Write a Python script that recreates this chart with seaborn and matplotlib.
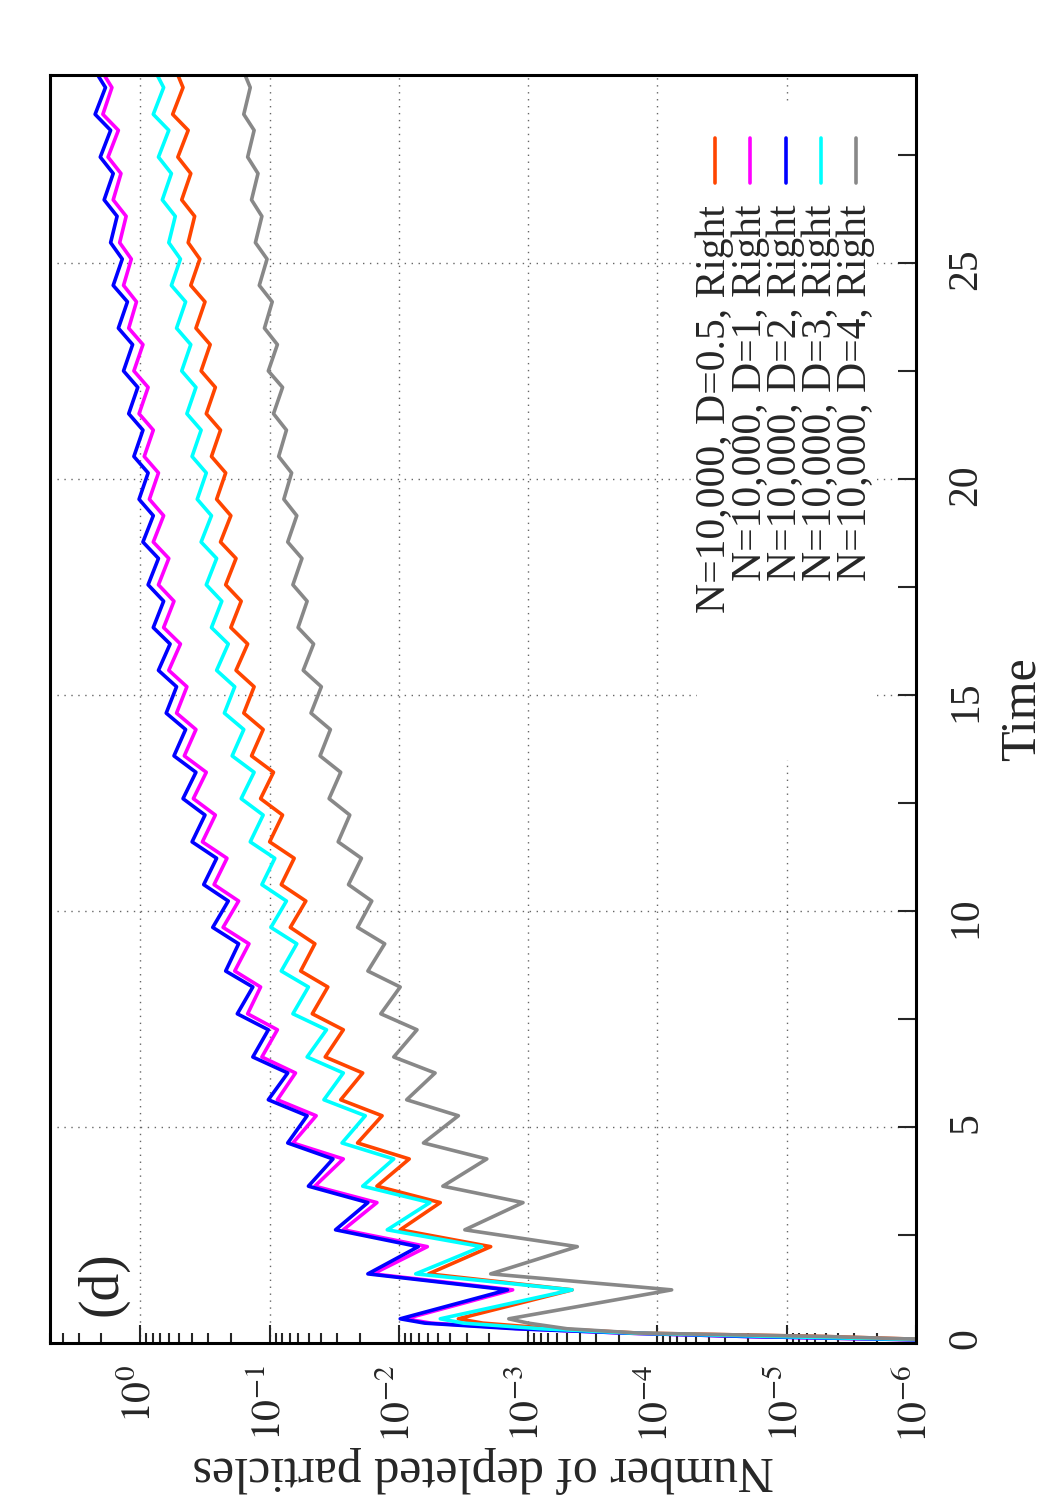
import numpy as np
import pandas as pd
import matplotlib
matplotlib.use("Agg")
import matplotlib.pyplot as plt
from matplotlib.lines import Line2D
from matplotlib.patches import Rectangle
from matplotlib.ticker import (FixedLocator, LogLocator, NullFormatter,
                               MultipleLocator, FuncFormatter)
import seaborn as sns

# Time samples (peaks / troughs of the oscillation)
time = [0.0, 0.08, 0.15, 0.23, 0.33, 0.46,
        0.56,
        1.23, 1.60, 2.23, 2.62, 3.25, 3.63, 4.26, 4.63, 5.26, 5.63,
        6.25, 6.62, 7.25, 7.62, 8.24, 8.61, 9.24, 9.62, 10.23, 10.61,
        11.22, 11.60, 12.22, 12.60, 13.21, 13.59, 14.20, 14.58, 15.19, 15.57,
        16.18, 16.56, 17.17, 17.55, 18.16, 18.54, 19.15, 19.53, 20.14, 20.52,
        21.13, 21.51, 22.12, 22.50, 23.11, 23.49, 24.10, 24.48, 25.09, 25.47,
        26.08, 26.46, 27.07, 27.45, 28.07, 28.44,
        29.06, 29.35]

# log10 of the number of depleted particles for each run
exp_d05 = [-7, -6.1, -5.3, -3.85, -3.2, -2.65,
           -2.46,
           -3.34, -2.23, -2.71, -2.01, -2.32, -1.83, -2.08, -1.68, -1.87, -1.55,
           -1.72, -1.43, -1.57, -1.33, -1.45, -1.24, -1.35, -1.16, -1.28, -1.09,
           -1.19, -1.00, -1.10, -0.93, -1.03, -0.86, -0.95, -0.80, -0.88, -0.74,
           -0.83, -0.70, -0.78, -0.66, -0.74, -0.62, -0.70, -0.59, -0.66, -0.55,
           -0.62, -0.51, -0.58, -0.47, -0.54, -0.43, -0.50, -0.39, -0.46, -0.37,
           -0.42, -0.32, -0.39, -0.29, -0.37, -0.25,
           -0.33, -0.29]
exp_d1 = [-7, -5.9, -4.7, -3.75, -2.95, -2.25,
          -2.05,
          -2.88, -1.80, -2.22, -1.57, -1.83, -1.35, -1.57, -1.18, -1.36, -1.06,
          -1.20, -0.94, -1.06, -0.83, -0.93, -0.73, -0.84, -0.64, -0.76, -0.57,
          -0.67, -0.48, -0.58, -0.41, -0.51, -0.34, -0.43, -0.28, -0.36, -0.22,
          -0.31, -0.18, -0.26, -0.14, -0.22, -0.10, -0.18, -0.07, -0.14, -0.03,
          -0.10, 0.01, -0.06, 0.05, -0.02, 0.09, 0.03, 0.13, 0.07, 0.16,
          0.11, 0.21, 0.15, 0.25, 0.17, 0.29,
          0.22, 0.28]
exp_d2 = [-7, -5.9, -4.7, -3.75, -2.9, -2.2,
          -2.01,
          -2.84, -1.76, -2.15, -1.51, -1.76, -1.30, -1.49, -1.14, -1.29, -0.99,
          -1.14, -0.87, -0.99, -0.75, -0.87, -0.66, -0.76, -0.56, -0.68, -0.49,
          -0.59, -0.40, -0.50, -0.33, -0.43, -0.26, -0.35, -0.20, -0.28, -0.14,
          -0.23, -0.10, -0.18, -0.06, -0.14, -0.02, -0.10, 0.01, -0.06, 0.05,
          -0.02, 0.09, 0.02, 0.13, 0.06, 0.17, 0.10, 0.21, 0.14, 0.23,
          0.18, 0.28, 0.21, 0.31, 0.23, 0.35,
          0.27, 0.33]
exp_d3 = [-7, -6.0, -4.9, -3.8, -3.1, -2.5,
          -2.32,
          -3.34, -2.13, -2.64, -1.91, -2.24, -1.72, -1.96, -1.56, -1.74, -1.42,
          -1.57, -1.29, -1.44, -1.18, -1.30, -1.09, -1.21, -1.01, -1.13, -0.94,
          -1.04, -0.85, -0.95, -0.78, -0.88, -0.71, -0.80, -0.65, -0.73, -0.59,
          -0.68, -0.55, -0.63, -0.51, -0.59, -0.47, -0.55, -0.44, -0.51, -0.40,
          -0.47, -0.36, -0.43, -0.32, -0.39, -0.28, -0.35, -0.24, -0.31, -0.22,
          -0.27, -0.17, -0.24, -0.14, -0.22, -0.10,
          -0.18, -0.13]
exp_d4 = [-7, -6.1, -5.3, -3.85, -3.3, -3.0,
          -2.85,
          -4.11, -2.71, -3.38, -2.51, -2.96, -2.34, -2.68, -2.19, -2.46, -2.06,
          -2.28, -1.96, -2.14, -1.86, -2.01, -1.76, -1.89, -1.68, -1.79, -1.61,
          -1.71, -1.53, -1.62, -1.46, -1.55, -1.39, -1.47, -1.32, -1.40, -1.26,
          -1.34, -1.22, -1.29, -1.18, -1.25, -1.14, -1.21, -1.11, -1.17, -1.07,
          -1.13, -1.03, -1.10, -0.99, -1.06, -0.96, -1.02, -0.92, -0.98, -0.89,
          -0.94, -0.86, -0.91, -0.83, -0.88, -0.80,
          -0.85, -0.81]

labels = ["N=10,000, D=0.5, Right", "N=10,000, D=1, Right", "N=10,000, D=2, Right",
          "N=10,000, D=3, Right", "N=10,000, D=4, Right"]
colors = ["#ff4500", "#ff00ff", "#0000ff", "#00ffff", "#888888"]
series = [exp_d05, exp_d1, exp_d2, exp_d3, exp_d4]
decades = [1e-6, 1e-5, 1e-4, 1e-3, 1e-2, 1e-1, 1e0]

sns.set_theme(style="ticks")
plt.rcParams["font.family"] = ["Liberation Serif", "DejaVu Serif"]
plt.rcParams["mathtext.fontset"] = "stix"

frames = []
for lab, e in zip(labels, series):
    frames.append(pd.DataFrame({"time": time, "value": 10.0 ** np.array(e), "run": lab}))
df = pd.concat(frames, ignore_index=True)

fig = plt.figure(figsize=(10.5, 15), dpi=100)
ax = fig.add_axes([50 / 1050, 157 / 1500, 866 / 1050, 1268 / 1500])

sns.lineplot(data=df, x="value", y="time", hue="run", hue_order=labels,
             palette=dict(zip(labels, colors)), orient="y", estimator=None,
             legend=False, lw=2.6, solid_joinstyle="round", ax=ax)

ax.set_xscale("log")
ax.set_xlim(5, 1e-6)
ax.set_ylim(0, 29.35)

# grid
ax.set_axisbelow(True)
ax.grid(True, which="major", ls=(0, (1, 4)), color="0.4", lw=1.0)
ax.grid(False, which="minor")

# log axis (bottom)
ax.xaxis.set_major_locator(FixedLocator(decades))
ax.xaxis.set_minor_locator(LogLocator(base=10, subs=np.arange(2, 10), numticks=20))
ax.xaxis.set_minor_formatter(NullFormatter())
ax.xaxis.set_major_formatter(FuncFormatter(lambda v, _: r"$10^{%d}$" % round(np.log10(v))))
ax.tick_params(axis="x", which="both", direction="in", top=False, bottom=True,
               labelrotation=90, labelsize=30, pad=16, width=1.5)
ax.tick_params(axis="x", which="major", length=13)
ax.tick_params(axis="x", which="minor", length=7)

# time axis (right)
ax.yaxis.set_major_locator(MultipleLocator(5))
ax.yaxis.set_minor_locator(MultipleLocator(2.5))
ax.yaxis.tick_right()
ax.tick_params(axis="y", which="both", direction="in", left=False, right=True,
               labelleft=False, labelright=True, labelrotation=90,
               labelsize=30, pad=22, width=1.5, length=13)

for s in ax.spines.values():
    s.set_linewidth(2.2)
    s.set_color("black")

ax.set_xlabel("Number of depleted particles", rotation=180, fontsize=36, labelpad=2)
ax.yaxis.set_label_position("right")
ax.set_ylabel("Time", rotation=90, fontsize=36, labelpad=10)

# key (drawn rotated, like the original)
ax.add_patch(Rectangle((0.747, 0.46), 0.208, 0.518, transform=ax.transAxes,
                       facecolor="white", edgecolor="none", zorder=1))
for i, (lab, col) in enumerate(zip(labels, colors)):
    xi = (715 + 35.3 * i - 50) / 866
    ax.text(xi, 0.8975, lab, rotation=90, rotation_mode="anchor", ha="right",
            va="center", transform=ax.transAxes, fontsize=30, zorder=3)
    ax.add_line(Line2D([xi, xi], [0.915, 0.950], transform=ax.transAxes,
                       color=col, lw=2.6, zorder=3))

ax.text(0.061, 0.047, "(d)", rotation=90, fontsize=40, transform=ax.transAxes,
        ha="center", va="center")

fig.savefig("out.png", dpi=100)
